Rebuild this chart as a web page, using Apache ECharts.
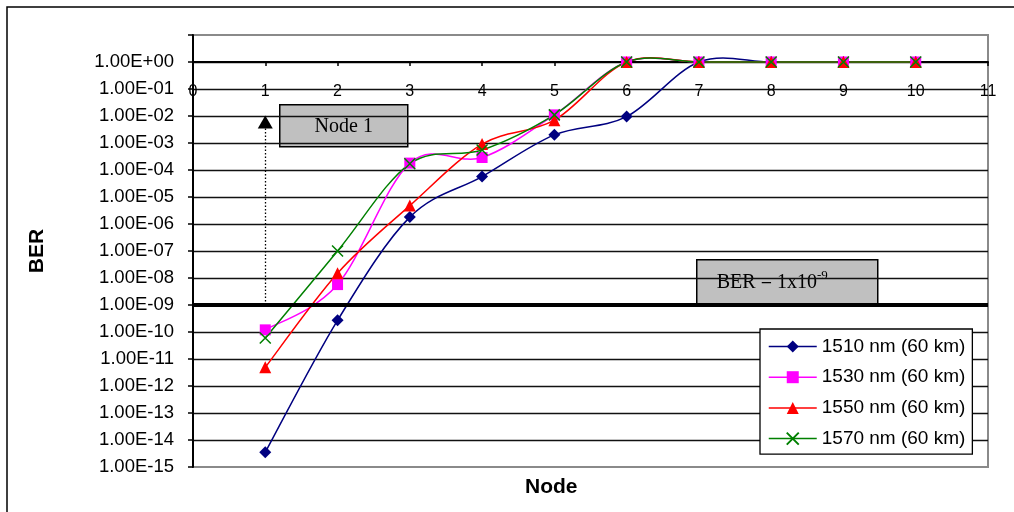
<!DOCTYPE html>
<html>
<head>
<meta charset="utf-8">
<script src="https://cdn.jsdelivr.net/npm/echarts@6/dist/echarts.min.js"></script>
<style>
  html, body { margin: 0; padding: 0; background: #fff; }
  #chart { width: 1014px; height: 512px; }
</style>
</head>
<body>
<div id="chart"></div>
<script>
// Node index along the link
const nodes = [1, 2, 3, 4, 5, 6, 7, 8, 9, 10];

// Measured bit error rate per node for each wavelength
const ber1510 = [3.5e-15, 2.7e-10, 1.8e-6, 5.7e-5, 2.0e-3, 9.5e-3, 1, 1, 1, 1];
const ber1530 = [1.2e-10, 5.7e-9, 1.8e-4, 2.9e-4, 1.1e-2, 1, 1, 1, 1, 1];
const ber1550 = [4.9e-12, 1.5e-8, 4.8e-6, 9.1e-4, 7.0e-3, 1, 1, 1, 1, 1];
const ber1570 = [6.0e-11, 1.0e-7, 1.7e-4, 5.5e-4, 1.1e-2, 1, 1, 1, 1, 1];

const seriesNames = ['1510 nm (60 km)', '1530 nm (60 km)', '1550 nm (60 km)', '1570 nm (60 km)'];

// Threshold line and the "Node 1" pointer
const berLimit = 1e-9;
const xRange = [0, 11];
const node1Pointer = { node: 1, from: 1e-9, to: 6e-3 };

const sans = '"Liberation Sans", Arial, sans-serif';
const serif = '"Liberation Serif", "Times New Roman", serif';

const pairs = arr => arr.map((v, i) => [nodes[i], v]);

function sciLabel(v) {
  const e = Math.round(Math.log10(v));
  if (e > 0) return '';
  const sign = e < 0 ? '-' : '+';
  return '1.00E' + sign + String(Math.abs(e)).padStart(2, '0');
}

// Spreadsheet-style smoothed curve: one cubic Bezier per segment, control
// points taken from the neighbouring points (Catmull-Rom, 1/6 tangents).
function smoothCurve(values, color) {
  return {
    type: 'custom',
    coordinateSystem: 'cartesian2d',
    silent: true,
    z: 2,
    data: pairs(values),
    encode: { x: 0, y: 1 },
    renderItem: function (params, api) {
      const i = params.dataIndex;
      const n = values.length;
      if (i >= n - 1) return null;
      const at = k => {
        const j = Math.max(0, Math.min(n - 1, k));
        return api.coord([nodes[j], values[j]]);
      };
      const p0 = at(i - 1), p1 = at(i), p2 = at(i + 1), p3 = at(i + 2);
      return {
        type: 'bezierCurve',
        shape: {
          x1: p1[0], y1: p1[1],
          cpx1: p1[0] + (p2[0] - p0[0]) / 6, cpy1: p1[1] + (p2[1] - p0[1]) / 6,
          cpx2: p2[0] - (p3[0] - p1[0]) / 6, cpy2: p2[1] - (p3[1] - p1[1]) / 6,
          x2: p2[0], y2: p2[1]
        },
        style: { stroke: color, lineWidth: 1.5, fill: null }
      };
    }
  };
}

// Markers for each wavelength (the curve itself comes from smoothCurve)
const markers = (name, data, color, symbol, size, extra) => Object.assign({
  name: name,
  type: 'line',
  z: 3,
  data: pairs(data),
  symbol: symbol,
  symbolSize: size,
  showAllSymbol: true,
  lineStyle: { color: color, width: 1.5, opacity: 0 },
  itemStyle: { color: color },
  emphasis: { disabled: true }
}, extra || {});

const colors = ['#000080', '#ff00ff', '#ff0000', '#008000'];

const chart = echarts.init(document.getElementById('chart'), null, { renderer: 'canvas' });

chart.setOption({
  animation: false,
  backgroundColor: '#fff',
  grid: {
    left: 193, right: 26, top: 35, bottom: 45,
    show: true, borderColor: '#8a8a8a', borderWidth: 2, backgroundColor: '#fff'
  },
  xAxis: {
    type: 'value',
    min: xRange[0], max: xRange[1], interval: 1,
    position: 'top',
    offset: -27,
    axisLine: { show: true, onZero: false, lineStyle: { color: '#000', width: 2 } },
    axisTick: { show: true, inside: true, length: 4, lineStyle: { color: '#000', width: 1.5 } },
    axisLabel: { inside: true, margin: 22, color: '#000', fontFamily: sans, fontSize: 16 },
    splitLine: { show: false }
  },
  yAxis: {
    type: 'log',
    logBase: 10,
    min: 1e-15, max: 10, interval: 1,
    name: 'BER',
    nameLocation: 'middle',
    nameRotate: 90,
    nameGap: 145,
    nameTextStyle: { color: '#000', fontFamily: sans, fontSize: 21, fontWeight: 'bold' },
    axisLine: { show: true, lineStyle: { color: '#000', width: 2 } },
    axisTick: { show: true, length: 5, lineStyle: { color: '#000', width: 1.5 } },
    axisLabel: { margin: 19, color: '#000', fontFamily: sans, fontSize: 18.5, formatter: sciLabel },
    splitLine: { show: true, showMinLine: false, showMaxLine: false, lineStyle: { color: '#111', width: 1.3 } }
  },
  legend: {
    orient: 'vertical',
    left: 760, top: 329,
    padding: [8, 7, 6, 8],
    itemGap: 11.7,
    itemWidth: 48,
    itemHeight: 15,
    backgroundColor: '#fff',
    borderColor: '#000',
    borderWidth: 1.3,
    borderRadius: 0,
    textStyle: { color: '#000', fontFamily: sans, fontSize: 19 },
    data: seriesNames.map((name, k) => ({
      name: name,
      lineStyle: { color: colors[k], width: 1.5, opacity: 1 }
    }))
  },
  series: [
    smoothCurve(ber1510, colors[0]),
    markers(seriesNames[0], ber1510, colors[0], 'diamond', 12, {
      markLine: {
        silent: true,
        symbol: ['none', 'none'],
        label: { show: false },
        emphasis: { disabled: true },
        data: [
          [
            { coord: [xRange[0], berLimit], lineStyle: { color: '#000', width: 4, type: 'solid', opacity: 1 } },
            { coord: [xRange[1], berLimit] }
          ],
          [
            { coord: [node1Pointer.node, node1Pointer.from], symbol: 'none',
              lineStyle: { color: '#000', width: 1.3, type: [1.5, 2], opacity: 1 } },
            { coord: [node1Pointer.node, node1Pointer.to], symbol: 'triangle', symbolSize: [15, 13] }
          ]
        ]
      }
    }),
    smoothCurve(ber1530, colors[1]),
    markers(seriesNames[1], ber1530, colors[1], 'rect', 11),
    smoothCurve(ber1550, colors[2]),
    markers(seriesNames[2], ber1550, colors[2], 'triangle', 12),
    smoothCurve(ber1570, colors[3]),
    markers(seriesNames[3], ber1570, colors[3], 'path://M0,0L10,10M0,10L10,0', 11, {
      itemStyle: { color: colors[3], borderColor: colors[3], borderWidth: 1.5 }
    })
  ],
  graphic: [
    // outer chart frame
    { type: 'polyline', silent: true, z: 100,
      shape: { points: [[7, 520], [7, 7], [1020, 7]] },
      style: { stroke: '#000', lineWidth: 1.5, fill: null } },
    // "Node 1" call-out box
    { type: 'group', left: 279, top: 104, z: 100, children: [
      { type: 'rect', shape: { x: 0, y: 0, width: 128, height: 42 },
        style: { fill: '#c0c0c0', stroke: '#000', lineWidth: 1.5 } },
      { type: 'text', x: 64, y: 22,
        style: { text: 'Node 1', fill: '#000', font: '20px ' + serif, align: 'center', verticalAlign: 'middle' } }
    ] },
    // BER threshold call-out box
    { type: 'group', left: 696, top: 259, z: 100, children: [
      { type: 'rect', shape: { x: 0, y: 0, width: 181, height: 44 },
        style: { fill: '#c0c0c0', stroke: '#000', lineWidth: 1.5 } },
      { type: 'text', x: 20, y: 21,
        style: {
          text: '{a|BER = 1x10}{s|-9}',
          verticalAlign: 'middle',
          rich: {
            a: { fontFamily: serif, fontSize: 20, color: '#000', lineHeight: 24, verticalAlign: 'bottom' },
            s: { fontFamily: serif, fontSize: 13, color: '#000', lineHeight: 24, verticalAlign: 'top' }
          }
        } }
    ] },
    // x-axis title
    { type: 'text', left: 552 - 27, top: 477, z: 100,
      style: { text: 'Node', fill: '#000', font: 'bold 21px ' + sans } }
  ]
});
</script>
</body>
</html>
